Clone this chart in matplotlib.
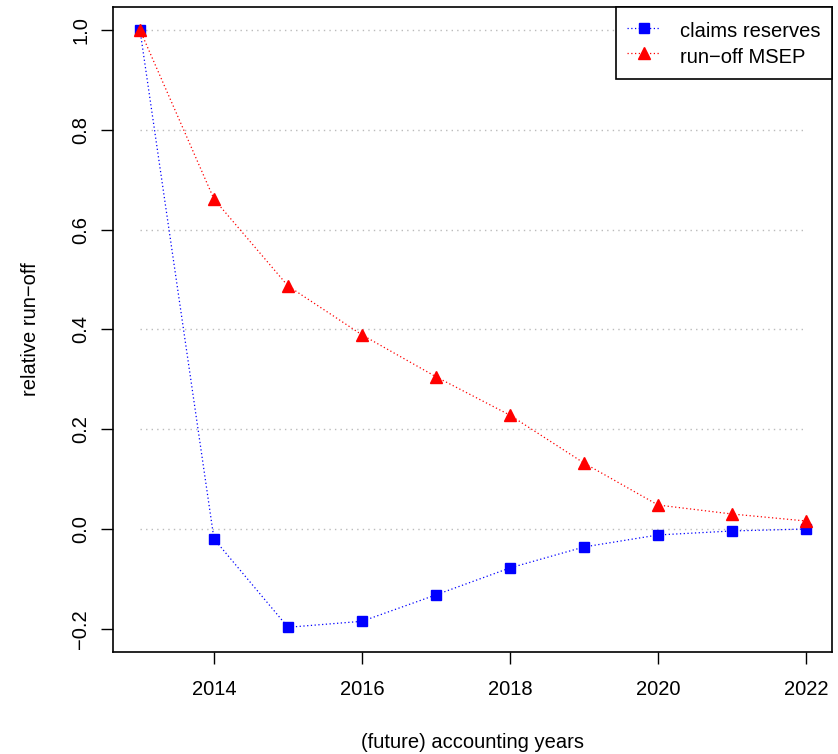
import numpy as np
import matplotlib
matplotlib.use("Agg")
import matplotlib.pyplot as plt

plt.rcParams['font.family'] = ['Liberation Sans', 'DejaVu Sans']

years = [2013, 2014, 2015, 2016, 2017, 2018, 2019, 2020, 2021, 2022]
claims_reserves = [1.0, -0.020, -0.197, -0.185, -0.132, -0.078, -0.036, -0.012, -0.004, 0.0]
runoff_msep = [1.0, 0.661, 0.487, 0.389, 0.305, 0.228, 0.132, 0.048, 0.030, 0.016]
y_ticks = [-0.2, 0.0, 0.2, 0.4, 0.6, 0.8, 1.0]
x_ticks = [2014, 2016, 2018, 2020, 2022]

fig = plt.figure(figsize=(8.38, 7.54), dpi=100)
ax = fig.add_axes([0.1348, 0.1353, 0.858, 0.8554])

# dotted grey grid lines
ax.hlines(y_ticks[1:], years[0], years[-1], colors="#bbbbbb", linestyles=(0, (1, 3)), linewidth=1)

ax.plot(years, claims_reserves, color="blue", linestyle=(0, (1, 2)), linewidth=0.9,
        marker="s", markersize=7.5, label="claims reserves")
ax.plot(years, runoff_msep, color="red", linestyle=(0, (1, 2)), linewidth=0.9,
        marker="^", markersize=9, label="run\u2212off MSEP")

ax.set_xlim(2012.635, 2022.35)
ax.set_ylim(-0.2465, 1.046)
ax.set_xticks(x_ticks)
ax.set_xticklabels([str(x) for x in x_ticks])
ax.set_yticks(y_ticks)
ax.set_yticklabels(["\u22120.2", "0.0", "0.2", "0.4", "0.6", "0.8", "1.0"], rotation=90, va="center")
ax.tick_params(axis="x", direction="out", length=8.5, width=1, labelsize=14.5, pad=12)
ax.tick_params(axis="y", direction="out", length=8.5, width=1, labelsize=14.5, pad=8)
for sp in ax.spines.values():
    sp.set_linewidth(1.2)

ax.set_xlabel("(future) accounting years", fontsize=14.5, labelpad=24)
ax.set_ylabel("relative run\u2212off", fontsize=14.5, labelpad=22)

leg = ax.legend(loc="upper right", fontsize=14.5, fancybox=False, framealpha=1,
                borderaxespad=0, handlelength=1.65, handleheight=1.5, borderpad=0.55,
                labelspacing=0.05, handletextpad=1.0)
leg.get_frame().set_edgecolor("black")
leg.get_frame().set_linewidth(1.2)

fig.savefig("out.png", dpi=100)
